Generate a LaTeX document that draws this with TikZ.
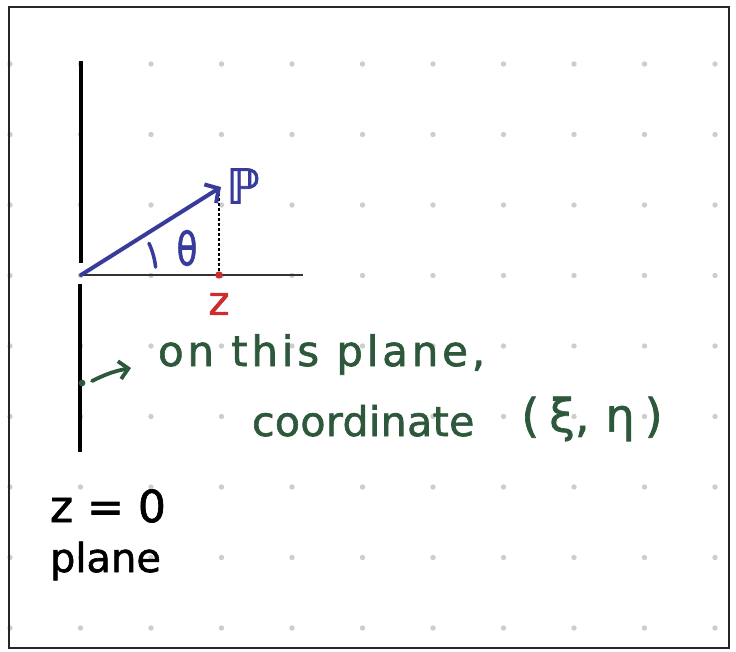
\documentclass[tikz,border=0pt]{standalone}
\usepackage{fontspec}
\setmainfont{DejaVu Sans}[FakeBold=1.5]
\newfontfamily\handwide[LetterSpace=9,FakeBold=1.5]{DejaVu Sans}
\newfontfamily\handnarrow[LetterSpace=1,FakeBold=1.5]{DejaVu Sans}
\usetikzlibrary{arrows.meta}
\definecolor{penblue}{RGB}{55,60,155}
\definecolor{pengreen}{RGB}{45,88,60}
\definecolor{penred}{RGB}{205,45,45}
\definecolor{dotgray}{RGB}{205,205,205}
\tikzset{
  gridpt/.style={fill=dotgray},
  thickpen/.style={line width=4.5pt, black},
  bluepen/.style={penblue, line width=4pt},
  greenpen/.style={pengreen, line width=3.8pt},
  hand/.style={inner sep=0pt, outer sep=0pt},
}
\begin{document}
\begin{tikzpicture}[x=1pt,y=-1pt]
\useasboundingbox (0,0) rectangle (736,652);
% dot grid
\foreach \i in {0,...,10}
  \foreach \j in {0,...,8}
    \fill[gridpt] (10+70.5*\i, 64+70.5*\j) circle (2.7pt);
% frame
\draw[line width=1.6pt, black!85] (9,7) rectangle (729,648);
% the z=0 plane (vertical line, broken at the origin)
\coordinate (Ltop) at (81,61);
\coordinate (Lmid1) at (81,263);
\coordinate (Lmid2) at (80,284);
\coordinate (Lbot) at (80,452);
\draw[thickpen] (Ltop) -- (Lmid1);
\draw[thickpen] (Lmid2) -- (Lbot);
% z axis
\coordinate (O) at (81,275);
\coordinate (Aend) at (303,275);
\draw[line width=1.3pt, black!80] (O) -- (Aend);
% dashed projection
\coordinate (Pfoot) at (219,275);
\coordinate (Ptop) at (219,193);
\draw[line width=1.1pt, dash pattern=on 3pt off 2pt] (Ptop) -- (Pfoot);
% arrow to P
\coordinate (Ptip) at (221,187);
\draw[bluepen, line cap=round, -{Straight Barb[length=10pt,width=22pt]}] (O) -- (Ptip);
\node[hand, penblue, font=\fontsize{48}{48}\selectfont] (Plabel) at (243,186) {ℙ};
% angle mark and theta
\draw[penblue, line width=3.5pt, line cap=round] ([shift={(O)}] -6:75) arc[start angle=-6, end angle=-25, radius=75];
\node[hand, penblue, font=\fontsize{40}{40}\selectfont] (theta) at (187,248) {\scalebox{0.85}[1.15]{θ}};
% red point z
\fill[penred] (Pfoot) circle (3.7pt);
\node[hand, penred, font=\fontsize{40}{40}\selectfont] (zlabel) at (219,304) {z};
% green annotation
\fill[pengreen] (82,383) circle (3.4pt);
\coordinate (gs) at (92,381);
\coordinate (ge) at (131,368);
\draw[greenpen, line cap=round, -{Straight Barb[length=9pt,width=18pt]}] (gs) to[bend left=8] (ge);
\node[hand, pengreen, anchor=base west, font=\handwide\fontsize{42}{44}\selectfont] (line1) at (158,366) {on this plane,};
\node[hand, pengreen, anchor=base west, font=\handnarrow\fontsize{41}{44}\selectfont] (line2) at (252,436) {coordinate};
\node[hand, pengreen, font=\fontsize{46}{46}\selectfont] (coords) at (592,419) {(\hspace{10pt}ξ,\hspace{16pt}η\hspace{10pt})};
% z=0 plane label
\node[hand, black, anchor=base west, font=\fontsize{44}{44}\selectfont] (zzero) at (50,522) {z = 0};
\node[hand, black, anchor=base west, font=\fontsize{40}{40}\selectfont] (plane) at (50,572) {plane};
\end{tikzpicture}
\end{document}
